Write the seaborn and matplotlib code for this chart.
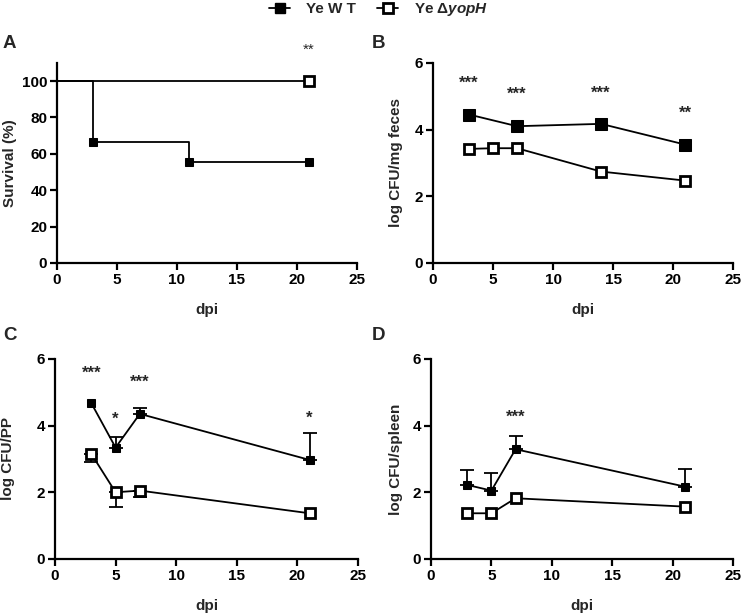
import numpy as np
import pandas as pd
import matplotlib
matplotlib.use("Agg")
import matplotlib.pyplot as plt
from matplotlib.lines import Line2D
import seaborn as sns

# ---- data ----
groups = ["Ye WT", "Ye ΔyopH"]

# A: survival (%)
surv_days = [0, 3, 11, 21]
surv_wt = [100, 66.7, 55.6, 55.6]
surv_ko_days = [0, 21]
surv_ko = [100, 100]

# B: log CFU/mg feces
feces_days_wt = [3, 7, 14, 21]
feces_wt = [4.45, 4.10, 4.17, 3.55]
feces_days_ko = [3, 5, 7, 14, 21]
feces_ko = [3.42, 3.44, 3.44, 2.74, 2.47]
feces_stars = ["***", "***", "***", "**"]
feces_star_x = [3, 7, 14, 21]
feces_star_y = [5.4, 5.05, 5.1, 4.5]

# C: log CFU/PP
pp_days = [3, 5, 7, 21]
pp_wt = [4.67, 3.34, 4.35, 2.97]
pp_wt_err = [0.0, 0.33, 0.19, 0.80]
pp_ko = [3.15, 2.00, 2.05, 1.37]
pp_ko_err = [0.23, 0.43, 0.20, 0.0]
pp_stars = ["***", "*", "***", "*"]
pp_star_y = [5.57, 4.2, 5.3, 4.23]

# D: log CFU/spleen
sp_days = [3, 5, 7, 21]
sp_wt = [2.22, 2.05, 3.29, 2.17]
sp_wt_err = [0.45, 0.54, 0.41, 0.53]
sp_ko = [1.37, 1.37, 1.82, 1.57]
sp_ko_err = [0.0, 0.0, 0.0, 0.0]
sp_stars = ["***"]
sp_star_x = [7]
sp_star_y = [4.25]

sns.set_style("ticks")
plt.rcParams["font.family"] = ["Liberation Sans", "DejaVu Sans"]
plt.rcParams["font.weight"] = "bold"
plt.rcParams["axes.labelweight"] = "bold"
plt.rcParams["mathtext.fontset"] = "custom"
plt.rcParams["mathtext.it"] = "Liberation Sans:italic:bold"
plt.rcParams["mathtext.rm"] = "Liberation Sans:bold"

fig = plt.figure(figsize=(7.42, 6.14), dpi=100)
axA = fig.add_axes([0.0768, 0.5717, 0.4043, 0.326])
axB = fig.add_axes([0.5836, 0.5717, 0.4043, 0.326])
axC = fig.add_axes([0.0741, 0.0896, 0.4084, 0.326])
axD = fig.add_axes([0.5809, 0.0896, 0.4070, 0.326])

wt_style = dict(color="black", marker="s", markersize=5.5, markerfacecolor="black",
                markeredgecolor="black", linewidth=1.3)
ko_style = dict(color="black", marker="s", markersize=6.5, markerfacecolor="white",
                markeredgecolor="black", markeredgewidth=2, linewidth=1.3)

def style_axis(ax, ylim, yticks, ylabel):
    ax.set_xlim(0, 25)
    ax.set_ylim(*ylim)
    ax.set_xticks([0, 5, 10, 15, 20, 25])
    ax.set_yticks(yticks)
    ax.set_xlabel("dpi", fontsize=11, labelpad=12)
    ax.set_ylabel(ylabel, fontsize=11)
    for s in ["top", "right"]:
        ax.spines[s].set_visible(False)
    for s in ["left", "bottom"]:
        ax.spines[s].set_linewidth(1.6)
        ax.spines[s].set_color("black")
    ax.tick_params(direction="out", length=5, width=1.6, labelsize=11, colors="black",
                   pad=2)
    for lab in ax.get_xticklabels() + ax.get_yticklabels():
        lab.set_fontweight("bold")

def one_sided_err(ax, x, y, err, up):
    # only draw bars that have a visible error
    keep = [i for i, e in enumerate(err) if e > 0]
    if not keep:
        return
    xs = [x[i] for i in keep]
    ys = [y[i] for i in keep]
    es = [err[i] for i in keep]
    zeros = np.zeros(len(es))
    yerr = [zeros, es] if up else [es, zeros]
    ax.errorbar(xs, ys, yerr=yerr, fmt="none", ecolor="black", elinewidth=1.3,
                capsize=5, capthick=1.3, zorder=1)

# ---- A ----
dfA = pd.DataFrame({"dpi": surv_days, "surv": surv_wt})
sns.lineplot(data=dfA, x="dpi", y="surv", ax=axA, drawstyle="steps-post",
             markevery=[1, 2, 3], **wt_style)
dfA2 = pd.DataFrame({"dpi": surv_ko_days, "surv": surv_ko})
sns.lineplot(data=dfA2, x="dpi", y="surv", ax=axA, drawstyle="steps-post",
             markevery=[1], **ko_style)
axA.text(21, 117, "**", ha="center", va="center", fontsize=11, fontweight="normal",
         clip_on=False)
style_axis(axA, (0, 110), [0, 20, 40, 60, 80, 100], "Survival (%)")

# ---- B ----
b_wt = dict(wt_style, markersize=8)
b_ko = dict(ko_style, markersize=7)
sns.lineplot(x=feces_days_wt, y=feces_wt, ax=axB, **b_wt)
sns.lineplot(x=feces_days_ko, y=feces_ko, ax=axB, **b_ko)
for x, y, s in zip(feces_star_x, feces_star_y, feces_stars):
    axB.text(x, y, s, ha="center", va="center", fontsize=12)
style_axis(axB, (0, 6), [0, 2, 4, 6], "log CFU/mg feces")

# ---- C ----
one_sided_err(axC, pp_days, pp_wt, pp_wt_err, up=True)
one_sided_err(axC, pp_days, pp_ko, pp_ko_err, up=False)
sns.lineplot(x=pp_days, y=pp_wt, ax=axC, zorder=3, **wt_style)
sns.lineplot(x=pp_days, y=pp_ko, ax=axC, zorder=3, **ko_style)
for x, y, s in zip(pp_days, pp_star_y, pp_stars):
    axC.text(x, y, s, ha="center", va="center", fontsize=12)
style_axis(axC, (0, 6), [0, 2, 4, 6], "log CFU/PP")

# ---- D ----
one_sided_err(axD, sp_days, sp_wt, sp_wt_err, up=True)
one_sided_err(axD, sp_days, sp_ko, sp_ko_err, up=False)
sns.lineplot(x=sp_days, y=sp_wt, ax=axD, zorder=3, **wt_style)
sns.lineplot(x=sp_days, y=sp_ko, ax=axD, zorder=3, **ko_style)
for x, y, s in zip(sp_star_x, sp_star_y, sp_stars):
    axD.text(x, y, s, ha="center", va="center", fontsize=12)
style_axis(axD, (0, 6), [0, 2, 4, 6], "log CFU/spleen")

# y-label positions (right edge of the rotated label)
axA.yaxis.set_label_coords(-0.133, 0.5)
axB.yaxis.set_label_coords(-0.100, 0.5)
axC.yaxis.set_label_coords(-0.132, 0.5)
axD.yaxis.set_label_coords(-0.093, 0.5)

# panel letters
for x, y, s in [(0.004, 0.922, "A"), (0.501, 0.922, "B"), (0.004, 0.446, "C"), (0.501, 0.446, "D")]:
    fig.text(x, y, s, fontsize=13.5, fontweight="bold", ha="left", va="baseline")

# legend
handles = [Line2D([], [], **dict(wt_style, markersize=6.5)),
           Line2D([], [], **ko_style)]
labels = ["Ye W T", "Ye Δ$\\mathit{yopH}$"]
fig.legend(handles, labels, loc="upper center", bbox_to_anchor=(0.51, 1.02), ncol=2,
           frameon=False, fontsize=11, handlelength=1.4, columnspacing=1.4,
           handletextpad=1.0)

fig.savefig("out.png", dpi=100)
